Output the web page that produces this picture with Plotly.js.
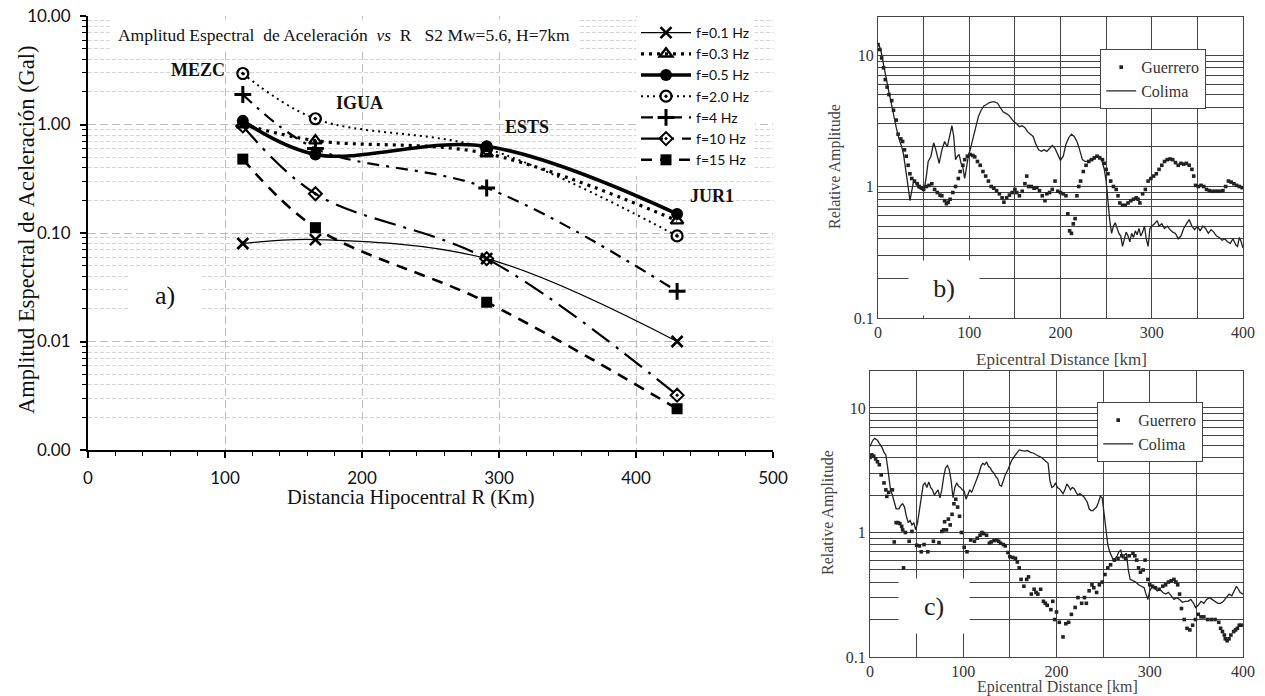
<!DOCTYPE html>
<html><head><meta charset="utf-8">
<script src="https://cdn.plot.ly/plotly-3.0.1.min.js"></script>
<style>html,body{margin:0;padding:0;background:#fff}#chart{width:1265px;height:696px}</style>
</head><body><div id="chart"></div>
<script>
// ---------- Panel a data ----------
const distanceR = [113, 166, 291, 430];
const stations = ['MEZC', 'IGUA', 'ESTS', 'JUR1'];
const f01 = [0.080, 0.087, 0.058, 0.010];
const f03 = [1.00, 0.71, 0.54, 0.13];
const f05 = [1.08, 0.53, 0.63, 0.15];
const f20 = [2.95, 1.13, 0.60, 0.094];
const f4  = [1.89, 0.60, 0.26, 0.029];
const f10 = [0.97, 0.23, 0.058, 0.0032];
const f15 = [0.48, 0.112, 0.023, 0.0024];
const yTickVals = [0.001, 0.01, 0.1, 1, 10];
const yTickText = ['0.00', '0.01', '0.10', '1.00', '10.00'];

// ---------- Panel b data [km, relative amplitude] ----------
const guerreroB = [[0,12],[2,11],[4,9.5],[6,8],[8,6.5],[10,5.7],[12,5],[15,4.5],[17,3.8],[20,3.2],[22,2.5],[25,2.3],[27,2.2],[29,1.9],[31,1.7],[33,1.45],[35,1.25],[37,1.15],[40,1.1],[43,1.05],[45,1.0],[48,0.98],[50,0.95],[53,1.0],[56,1.02],[59,1.05],[62,0.95],[65,0.9],[68,0.86],[70,0.85],[73,0.78],[75,0.74],[77,0.76],[79,0.8],[82,0.9],[85,1.0],[88,1.15],[90,1.3],[93,1.45],[95,1.6],[98,1.7],[101,1.75],[104,1.72],[106,1.68],[109,1.55],[112,1.45],[115,1.3],[118,1.2],[121,1.1],[124,1.0],[127,0.97],[130,0.93],[133,0.88],[136,0.82],[138,0.76],[141,0.82],[144,0.86],[147,0.9],[150,0.95],[152,0.9],[155,0.85],[158,0.92],[161,1.05],[163,1.2],[165,1.0],[168,1.0],[171,0.97],[174,0.98],[177,0.93],[180,0.85],[183,0.78],[185,0.88],[188,0.9],[191,0.95],[194,1.1],[197,0.92],[200,0.9],[203,0.88],[206,0.85],[208,0.62],[210,0.46],[212,0.44],[214,0.52],[216,0.57],[218,0.85],[220,1.0],[222,1.1],[225,1.3],[228,1.45],[231,1.55],[234,1.6],[237,1.65],[240,1.7],[243,1.65],[246,1.6],[248,1.5],[250,1.35],[252,1.25],[255,1.1],[258,1.0],[261,0.95],[263,0.85],[265,0.75],[268,0.72],[271,0.72],[274,0.75],[277,0.78],[280,0.8],[283,0.82],[285,0.8],[287,0.75],[290,0.88],[293,0.95],[296,1.1],[299,1.15],[302,1.2],[305,1.25],[308,1.35],[311,1.45],[314,1.55],[317,1.6],[320,1.62],[323,1.6],[326,1.52],[329,1.45],[332,1.5],[335,1.48],[338,1.5],[341,1.45],[344,1.35],[346,1.2],[348,1.02],[351,1.0],[354,1.02],[357,1.0],[360,0.95],[363,0.93],[366,0.92],[369,0.92],[372,0.92],[375,0.92],[378,0.93],[381,1.0],[384,1.1],[387,1.08],[390,1.05],[393,1.02],[396,1.0],[399,0.98]];
const colimaB = [[0,12.3],[3,11],[6,8.5],[9,6.5],[12,5.2],[14,4.5],[17,3.5],[20,2.8],[23,2.3],[26,2.0],[28,1.75],[31,1.3],[33,1.0],[35,0.78],[37,0.95],[39,1.1],[42,1.05],[45,0.97],[48,0.95],[51,0.98],[53,1.2],[55,1.55],[58,1.7],[61,2.15],[63,1.95],[65,1.7],[67,1.5],[70,1.9],[73,2.2],[76,2.0],[79,2.5],[81,2.9],[83,2.4],[85,1.6],[87,1.7],[89,1.75],[91,1.5],[93,1.4],[95,1.15],[97,1.4],[99,1.7],[101,1.9],[104,2.3],[107,2.8],[110,3.4],[113,3.8],[116,4.1],[119,4.2],[122,4.35],[125,4.4],[128,4.4],[131,4.3],[134,4.0],[137,3.7],[140,3.6],[143,3.5],[146,3.3],[149,3.1],[152,3.0],[155,2.85],[158,2.9],[161,2.8],[164,2.6],[167,2.5],[170,2.4],[173,2.1],[176,1.9],[179,1.85],[182,1.9],[185,1.85],[188,1.95],[191,2.05],[194,1.95],[197,1.75],[200,1.58],[203,1.7],[206,2.1],[209,2.35],[212,2.5],[215,2.4],[218,2.2],[221,1.9],[224,1.6],[227,1.55],[230,1.55],[233,1.6],[236,1.6],[239,1.7],[242,1.7],[245,1.6],[248,1.35],[250,1.1],[252,0.75],[254,0.55],[256,0.44],[258,0.5],[260,0.53],[262,0.48],[264,0.44],[266,0.42],[268,0.35],[270,0.4],[272,0.45],[274,0.42],[276,0.38],[278,0.44],[280,0.41],[282,0.46],[284,0.43],[286,0.48],[288,0.42],[290,0.45],[292,0.5],[294,0.4],[296,0.35],[298,0.48],[300,0.5],[303,0.52],[306,0.55],[308,0.5],[311,0.52],[314,0.48],[317,0.5],[320,0.47],[323,0.45],[326,0.44],[329,0.4],[332,0.42],[335,0.48],[338,0.52],[341,0.56],[344,0.5],[347,0.47],[350,0.5],[353,0.46],[356,0.5],[359,0.48],[362,0.44],[365,0.47],[368,0.45],[371,0.42],[374,0.41],[377,0.39],[380,0.4],[383,0.38],[386,0.37],[389,0.4],[392,0.36],[394,0.35],[396,0.41],[398,0.38],[400,0.34]];

// ---------- Panel c data [km, relative amplitude] ----------
const guerreroC = [[0,4.0],[2,4.2],[4,4.1],[6,3.9],[8,3.7],[10,3.5],[12,2.9],[15,2.5],[17,2.2],[18,1.95],[20,2.1],[24,2.2],[26,0.84],[28,1.2],[30,1.2],[32,1.18],[34,1.12],[35,1.05],[36,0.52],[38,1.0],[42,0.85],[45,1.02],[50,0.79],[53,0.78],[55,0.7],[58,0.8],[62,0.7],[68,0.85],[74,0.83],[77,1.02],[79,1.05],[80,1.22],[82,1.05],[84,1.28],[86,1.15],[88,1.4],[90,1.7],[92,1.85],[94,1.6],[96,1.35],[98,1.0],[101,0.76],[104,0.7],[108,0.87],[112,0.85],[115,0.9],[118,0.95],[120,1.0],[122,0.98],[125,0.95],[128,0.82],[130,0.84],[133,0.86],[136,0.87],[138,0.85],[140,0.82],[143,0.8],[145,0.78],[148,0.69],[150,0.64],[153,0.63],[156,0.62],[158,0.58],[160,0.52],[162,0.42],[165,0.37],[168,0.42],[170,0.44],[173,0.32],[176,0.35],[178,0.33],[180,0.32],[183,0.35],[186,0.28],[188,0.27],[190,0.26],[194,0.24],[196,0.28],[198,0.2],[200,0.23],[203,0.19],[207,0.145],[210,0.185],[213,0.19],[216,0.22],[220,0.25],[223,0.3],[227,0.27],[230,0.3],[232,0.27],[235,0.34],[238,0.38],[240,0.36],[243,0.33],[246,0.38],[249,0.4],[252,0.46],[255,0.52],[258,0.55],[262,0.6],[266,0.62],[270,0.65],[274,0.62],[278,0.65],[282,0.68],[284,0.65],[286,0.6],[288,0.52],[290,0.48],[293,0.5],[295,0.6],[298,0.42],[300,0.38],[303,0.37],[306,0.36],[310,0.35],[314,0.37],[317,0.38],[320,0.4],[323,0.41],[326,0.42],[328,0.4],[330,0.38],[332,0.32],[334,0.245],[337,0.2],[340,0.17],[343,0.165],[346,0.18],[349,0.2],[352,0.22],[355,0.21],[358,0.21],[362,0.2],[366,0.2],[370,0.2],[374,0.19],[376,0.17],[378,0.16],[380,0.15],[381,0.14],[383,0.135],[385,0.14],[387,0.15],[390,0.16],[392,0.165],[394,0.17],[396,0.18],[398,0.18]];
const colimaC = [[0,4.9],[3,5.5],[5,5.7],[8,5.5],[10,5.2],[13,4.8],[15,4.4],[17,4.2],[19,3.3],[20,2.9],[22,2.2],[24,2.0],[26,1.8],[28,1.55],[31,1.55],[33,1.65],[35,1.7],[37,1.6],[39,1.35],[41,1.2],[43,1.25],[45,1.15],[47,1.2],[49,1.05],[51,1.2],[53,1.5],[55,1.95],[57,2.4],[59,2.5],[61,2.3],[63,2.55],[65,2.3],[67,2.2],[69,2.0],[71,2.1],[73,2.2],[75,1.9],[77,2.2],[79,2.8],[81,3.3],[83,3.45],[85,3.2],[87,2.6],[89,1.9],[91,2.3],[93,2.5],[95,2.35],[97,2.3],[99,2.2],[101,2.15],[103,1.85],[105,2.0],[107,2.2],[109,2.1],[111,2.3],[113,2.5],[115,2.7],[117,3.0],[119,3.4],[121,3.6],[123,3.5],[125,3.7],[127,3.4],[129,3.3],[131,3.1],[133,3.0],[135,2.8],[137,2.7],[139,2.4],[141,2.35],[143,2.6],[145,2.9],[148,3.2],[150,3.5],[152,3.8],[155,4.1],[158,4.4],[160,4.6],[163,4.55],[166,4.5],[169,4.55],[172,4.4],[175,4.35],[178,4.2],[181,4.1],[184,4.0],[187,3.85],[189,3.7],[191,3.6],[193,2.6],[195,2.3],[197,2.35],[199,2.5],[201,2.3],[203,2.25],[205,2.15],[207,2.05],[209,2.2],[211,2.45],[213,2.35],[215,2.2],[217,2.3],[219,2.25],[221,2.1],[223,2.0],[225,2.05],[227,2.0],[229,1.95],[231,1.85],[233,1.75],[235,1.55],[237,1.5],[239,1.5],[241,1.55],[243,1.6],[245,1.75],[247,1.95],[249,1.9],[251,1.4],[253,1.1],[255,0.8],[257,0.7],[259,0.65],[261,0.6],[263,0.62],[265,0.65],[267,0.7],[269,0.72],[271,0.62],[273,0.66],[275,0.68],[277,0.5],[279,0.42],[282,0.41],[285,0.4],[288,0.38],[291,0.37],[294,0.36],[296,0.32],[298,0.29],[300,0.34],[302,0.36],[305,0.36],[308,0.34],[311,0.35],[314,0.33],[317,0.32],[320,0.33],[323,0.31],[326,0.29],[329,0.3],[332,0.29],[335,0.275],[338,0.28],[341,0.28],[344,0.29],[347,0.27],[349,0.25],[352,0.26],[355,0.28],[358,0.27],[361,0.29],[364,0.3],[367,0.29],[370,0.28],[373,0.27],[376,0.27],[379,0.28],[382,0.3],[385,0.32],[388,0.31],[391,0.34],[393,0.37],[395,0.35],[397,0.33],[400,0.32]];
const seriesNames = ['Guerrero', 'Colima'];

// ---------- helpers ----------
const W = 1265, H = 696;
const P = x => x / W, Q = y => 1 - y / H;
const SERIF = '"Liberation Serif", "Times New Roman", serif';
const SERIF2 = 'Liberation Serif';
const SANS = 'Lato, "Open Sans", sans-serif';
function minorLog(decades) {
  const out = [];
  decades.forEach(d => { for (let k = 2; k <= 9; k++) out.push(+(k * d).toPrecision(3)); });
  return out;
}
const xs = a => a.map(p => p[0]);
const ys = a => a.map(p => p[1]);

// ---------- traces ----------
const K = '#000';
function st(name, y, line, marker) {
  return { x: distanceR, y, name, mode: 'lines+markers', xaxis: 'x', yaxis: 'y', legend: 'legend3',
    line: Object.assign({ shape: 'spline', color: K }, line),
    marker: Object.assign({ color: K }, marker), text: stations, hoverinfo: 'x+y+name' };
}
const traces = [
  st('f=0.1 Hz', f01, { width: 1.2 }, { symbol: 'x-thin-open', size: 11, line: { width: 2.6, color: K } }),
  st('f=0.3 Hz', f03, { width: 3.2, dash: '3px,5px' }, { symbol: 'triangle-up-open', size: 11, line: { width: 2.4, color: K } }),
  st('f=0.5 Hz', f05, { width: 3.6 }, { symbol: 'circle', size: 12 }),
  st('f=2.0 Hz', f20, { width: 2, dash: '2px,4px' }, { symbol: 'circle-open-dot', size: 11, line: { width: 2.2, color: K } }),
  st('f=4 Hz', f4, { width: 2.2, dash: '12px,7px,3px,7px' }, { symbol: 'cross-thin-open', size: 12, line: { width: 3, color: K } }),
  st('f=10 Hz', f10, { width: 2.2, dash: '22px,8px,3px,8px' }, { symbol: 'diamond-open-dot', size: 10, line: { width: 2, color: K } }),
  st('f=15 Hz', f15, { width: 2.6, dash: '11px,8px' }, { symbol: 'square', size: 11 }),
  { x: xs(guerreroB), y: ys(guerreroB), name: seriesNames[0], mode: 'markers', xaxis: 'x2', yaxis: 'y2', legend: 'legend',
    marker: { symbol: 'square', size: 3.6, color: '#222' } },
  { x: xs(colimaB), y: ys(colimaB), name: seriesNames[1], mode: 'lines', xaxis: 'x2', yaxis: 'y2', legend: 'legend',
    line: { color: '#222', width: 1.3 } },
  { x: xs(guerreroC), y: ys(guerreroC), name: seriesNames[0], mode: 'markers', xaxis: 'x3', yaxis: 'y3', legend: 'legend2',
    marker: { symbol: 'square', size: 3.6, color: '#222' } },
  { x: xs(colimaC), y: ys(colimaC), name: seriesNames[1], mode: 'lines', xaxis: 'x3', yaxis: 'y3', legend: 'legend2',
    line: { color: '#222', width: 1.3 } }
];

// ---------- axes ----------
const axA_x = {
  domain: [P(88), P(773)], anchor: 'y', range: [0, 500], tick0: 0, dtick: 100,
  showline: true, linecolor: K, linewidth: 2, ticks: 'outside', ticklen: 6, tickwidth: 1.5, tickcolor: K,
  ticklabelstandoff: 6,
  showgrid: true, gridcolor: '#bdbdbd', gridwidth: 1, griddash: '8px,4px', zeroline: false,
  minor: { dtick: 20, tick0: 0, ticks: 'outside', ticklen: 4, tickwidth: 1.2, tickcolor: K, showgrid: false },
  tickfont: { family: SANS, size: 17, color: '#111' }
};
const axA_y = {
  domain: [Q(450), Q(16)], anchor: 'x', type: 'log', range: [-3, 1],
  tickmode: 'array', tickvals: yTickVals, ticktext: yTickText,
  showline: true, linecolor: K, linewidth: 2, ticks: 'outside', ticklen: 6, tickwidth: 1.5, tickcolor: K,
  ticklabelstandoff: 6,
  showgrid: true, gridcolor: '#bdbdbd', gridwidth: 1, griddash: '8px,4px', zeroline: false,
  minor: { tickmode: 'array', tickvals: minorLog([0.001, 0.01, 0.1, 1]), ticks: 'outside', ticklen: 4, tickwidth: 1.2, tickcolor: K,
    showgrid: true, gridcolor: '#d4d4d4', gridwidth: 1, griddash: '4px,2px' },
  tickfont: { family: SANS, size: 17, color: '#111' }
};
function axRX(d, anchor) {
  return { domain: d, anchor, range: [0, 400], tick0: 0, dtick: 100,
    showline: true, mirror: true, linecolor: '#444', linewidth: 1.3, ticks: 'inside', ticklen: 4, tickcolor: '#444',
    showgrid: true, gridcolor: '#444', gridwidth: 1, zeroline: false,
    minor: { dtick: 50, tick0: 0, showgrid: true, gridcolor: '#444', gridwidth: 1, ticks: 'inside', ticklen: 4, tickcolor: '#444' },
    tickfont: { family: SERIF, size: 16, color: '#333' } };
}
function axRY(d, anchor, top) {
  return { domain: d, anchor, type: 'log', range: [-1, top],
    tickmode: 'array', tickvals: [0.1, 1, 10], ticktext: ['0.1', '1', '10'],
    showline: true, mirror: true, linecolor: '#444', linewidth: 1.3, ticks: '',
    showgrid: true, gridcolor: '#444', gridwidth: 1, zeroline: false,
    minor: { tickmode: 'array', tickvals: minorLog([0.1, 1]), showgrid: true, gridcolor: '#444', gridwidth: 1, ticks: '' },
    tickfont: { family: SERIF, size: 16, color: '#333' } };
}

// ---------- annotations ----------
function ann(text, x, y, font, extra) {
  return Object.assign({ text, x: P(x), y: Q(y), xref: 'paper', yref: 'paper', showarrow: false,
    xanchor: 'center', yanchor: 'middle', font }, extra || {});
}
const fSerif = (s, c) => ({ family: SERIF, size: s, color: c || '#111' });
const annotations = [
  ann('Amplitud Espectral de Aceleración (Gal)', 26, 230, fSerif(22.5), { textangle: -90 }),
  ann('Distancia Hipocentral R (Km)', 411, 497, fSerif(20.5)),
  ann('Amplitud Espectral  de Aceleración  <i>vs</i>  R   S2 Mw=5.6, H=7km', 344, 35, fSerif(17.5),
    { bgcolor: '#fff', width: 466, height: 28 }),
  ann('<b>MEZC</b>', 198, 70, fSerif(18)),
  ann('<b>IGUA</b>', 359, 103, fSerif(18)),
  ann('<b>ESTS</b>', 527, 127, fSerif(18)),
  ann('<b>JUR1</b>', 712, 196, fSerif(18)),
  ann('a)', 165, 295, fSerif(26), { bgcolor: '#fff', width: 70, height: 54 }),
  ann('b)', 944, 288, fSerif(26, '#222'), { bgcolor: '#fff', width: 68, height: 52 }),
  ann('c)', 934, 606, fSerif(26, '#222'), { bgcolor: '#fff', width: 68, height: 52 }),
  ann('Relative Amplitude', 835, 167, fSerif(16, '#444'), { textangle: -90 }),
  ann('Epicentral Distance [km]', 1061, 359, fSerif(17, '#444')),
  ann('Relative Amplitude', 828, 513, fSerif(16, '#444'), { textangle: -90 }),
  ann('Epicentral Distance [km]', 1057, 687, fSerif(16, '#444'))
];

const legendFontRight = { family: SERIF2, size: 16, color: '#333' };
const layout = {
  width: W, height: H, margin: { l: 0, r: 0, t: 0, b: 0 },
  font: { family: SERIF2, size: 15, color: '#333' },
  paper_bgcolor: '#fff', plot_bgcolor: '#fff', showlegend: true,
  xaxis: axA_x, yaxis: axA_y,
  xaxis2: axRX([P(878), P(1243)], 'y2'), yaxis2: axRY([Q(318), Q(17)], 'x2', 1.289),
  xaxis3: axRX([P(870), P(1243)], 'y3'), yaxis3: axRY([Q(657), Q(371)], 'x3', 1.297),
  legend: { x: P(1100), y: Q(49), xanchor: 'left', yanchor: 'top', bgcolor: '#fff', bordercolor: '#444', borderwidth: 1.2,
    font: legendFontRight, itemwidth: 30 },
  legend2: { x: P(1097), y: Q(402), xanchor: 'left', yanchor: 'top', bgcolor: '#fff', bordercolor: '#444', borderwidth: 1.2,
    font: legendFontRight, itemwidth: 30 },
  legend3: { x: P(636), y: Q(17), xanchor: 'left', yanchor: 'top', bgcolor: '#fff', borderwidth: 0,
    font: { family: SANS, size: 14, color: '#111' }, itemwidth: 50, tracegroupgap: 0 },
  annotations
};
Plotly.newPlot('chart', traces, layout, { displayModeBar: false, responsive: false });
</script></body></html>
